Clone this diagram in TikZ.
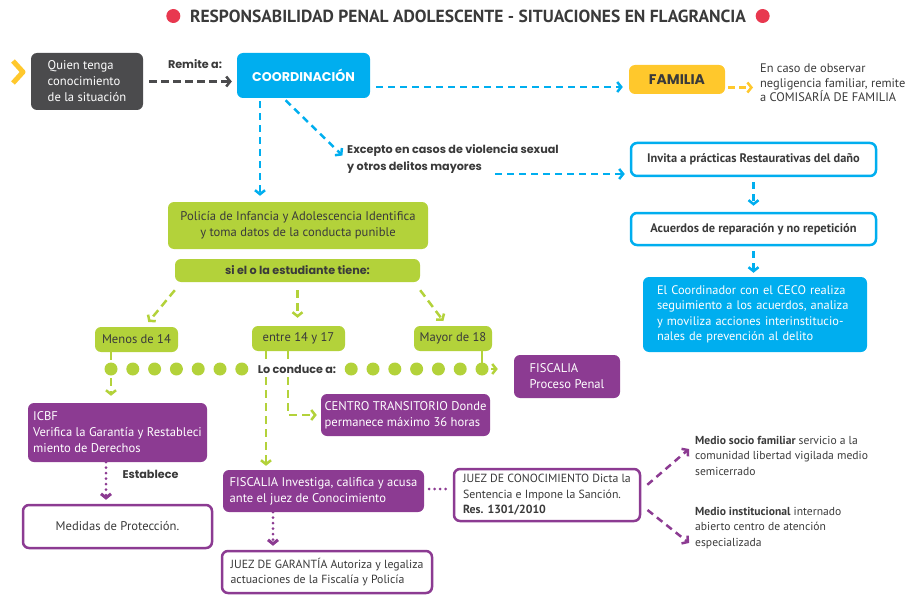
\documentclass[tikz,border=0pt]{standalone}
\usepackage{fontspec}
\setmainfont{PT Sans}
\newfontfamily\roundfont{Poppins}
\usetikzlibrary{arrows.meta,positioning,calc}

\definecolor{cyanC}{HTML}{00AEEF}
\definecolor{greenC}{HTML}{B3D23A}
\definecolor{purpleC}{HTML}{8C3B92}
\definecolor{grayC}{HTML}{4B4B4D}
\definecolor{yellowC}{HTML}{FFC82C}
\definecolor{redC}{HTML}{E8384F}
\definecolor{textC}{HTML}{3A3A3A}

\newcommand\txt{\fontsize{12.6}{16}\selectfont}
\newcommand\lbl{\roundfont\bfseries\fontsize{11.2}{17}\selectfont}

\tikzset{
  box/.style={rounded corners=6pt, inner sep=0pt, font=\txt},
  darkbox/.style={box, fill=grayC, text=white, align=left},
  cyanbox/.style={box, fill=cyanC, text=white},
  yellowbox/.style={box, fill=yellowC, text=textC},
  greenbox/.style={box, fill=greenC, text=textC, align=center},
  purplebox/.style={box, fill=purpleC, text=white, align=left},
  outcyan/.style={box, draw=cyanC, line width=2.5pt, fill=white, text=textC,
    font=\fontsize{12.4}{16}\selectfont\bfseries},
  outpurple/.style={box, draw=purpleC, line width=2.5pt, fill=white, text=textC},
  note/.style={text=textC, align=left, inner sep=0pt},
  label/.style={font=\lbl, text=textC, inner sep=1pt},
  reddot/.style={circle, fill=redC, minimum size=14pt, inner sep=0pt},
  tip/.style={-{Straight Barb[length=4pt,width=10pt]}},
  cyanline/.style={draw=cyanC, line width=2.5pt, dash pattern=on 7pt off 5pt, tip},
  grayline/.style={draw=grayC, line width=2.5pt, dash pattern=on 8pt off 4pt, tip},
  yellowline/.style={draw=yellowC, line width=2.5pt, dash pattern=on 7pt off 4pt, tip},
  greenline/.style={draw=greenC, line width=2.5pt, dash pattern=on 8pt off 5pt},
  greenarrow/.style={greenline, tip},
  purpledots/.style={draw=purpleC, line width=3pt, line cap=round, dash pattern=on 0pt off 5.5pt},
  purplearrow/.style={draw=purpleC, line width=2.5pt, dash pattern=on 7pt off 5pt, tip}
}

\begin{document}
\begin{tikzpicture}[x=1pt, y=-1pt]
\useasboundingbox (0,0) rectangle (912,596);

% titulo
\node[font=\bfseries\fontsize{17.5}{20}\selectfont, text=textC] (title) at (468,16)
  {RESPONSABILIDAD PENAL ADOLESCENTE - SITUACIONES EN FLAGRANCIA};
\node[reddot, left=6pt of title] (dotL) {};
\node[reddot, right=6pt of title] (dotR) {};

% fila superior
\draw[yellowC, line width=5pt, line join=round] (13,61) -- (23,72) -- (13,83);
\node[darkbox, minimum width=112pt, minimum height=57pt] (quien) at (87,81.5)
  {Quien tenga\\conocimiento\\de la situación};
\node[cyanbox, minimum width=133pt, minimum height=45pt,
  font=\roundfont\bfseries\fontsize{12.7}{14}\selectfont] (coord) at (303.5,75.5) {COORDINACIÓN};
\node[yellowbox, minimum width=96pt, minimum height=29pt,
  font=\roundfont\bfseries\fontsize{14}{16}\selectfont] (familia) at (677,79.5) {FAMILIA};
\node[note, anchor=north west, font=\fontsize{12.4}{14.5}\selectfont] (famnote) at (760,64)
  {En caso de observar\\negligencia familiar, remite\\a COMISARÍA DE FAMILIA};
\node[label] (remite) at (195,64) {Remite a:};
\node[label, anchor=west, align=left] (excepto) at (346,159)
  {Excepto en casos de violencia sexual\\y otros delitos mayores};

% columna derecha
\node[outcyan, minimum width=245pt, minimum height=33pt] (invita) at (753.5,159.5)
  {Invita a prácticas Restaurativas del daño};
\node[outcyan, minimum width=245pt, minimum height=32pt] (acuerdos) at (753.5,229)
  {Acuerdos de reparación y no repetición};
\node[cyanbox, align=left, text width=196pt, inner xsep=14pt, minimum height=75pt,
  font=\fontsize{12.4}{15.5}\selectfont] (ceco) at (755,314.5)
  {\makebox[196pt][s]{El Coordinador con el CECO realiza}\\
   \makebox[196pt][s]{seguimiento a los acuerdos, analiza}\\
   \makebox[196pt][s]{y moviliza acciones interinstitucio-}\\
   nales de prevención al delito};

% policia y edades
\node[greenbox, minimum width=260pt, minimum height=47pt] (policia) at (298,225.5)
  {Policía de Infancia y Adolescencia Identifica\\y toma datos de la conducta punible};
\node[greenbox, minimum width=245pt, minimum height=23pt, font=\lbl] (siel) at (297.5,270.5)
  {si el o la estudiante tiene:};
\node[greenbox, minimum width=83pt, minimum height=25pt] (menos) at (136.5,339.5) {Menos de 14};
\node[greenbox, minimum width=93pt, minimum height=25pt] (entre) at (298.5,338.5) {entre 14 y 17};
\node[greenbox, minimum width=78pt, minimum height=25pt] (mayor) at (453,338.5) {Mayor de 18};

% destinos
\node[purplebox, minimum width=106pt, minimum height=43pt] (fiscproc) at (567,376.5)
  {FISCALIA\\Proceso Penal};
\node[purplebox, minimum width=169pt, minimum height=42pt] (centro) at (405.5,415)
  {CENTRO TRANSITORIO Donde\\permanece máximo 36 horas};
\node[purplebox, minimum width=179pt, minimum height=59pt] (icbf) at (117.5,432.5)
  {ICBF\\Verifica la Garantía y Restableci\\miento de Derechos};
\node[outpurple, minimum width=189pt, minimum height=43pt] (medidas) at (117.5,526.5)
  {Medidas de Protección.};
\node[purplebox, minimum width=201pt, minimum height=42pt] (fiscinv) at (323.5,491)
  {FISCALIA Investiga, califica y acusa\\ante el juez de Conocimiento};
\node[outpurple, align=left, minimum width=210pt, minimum height=42pt,
  font=\fontsize{11.8}{15.5}\selectfont] (juezgar) at (327,572)
  {JUEZ DE GARANTÍA Autoriza y legaliza\\actuaciones de la Fiscalía y Policía};
\node[outpurple, align=left, minimum width=186pt, minimum height=52pt,
  font=\fontsize{11.8}{15.5}\selectfont] (juezcon) at (547,495)
  {JUEZ DE CONOCIMIENTO Dicta la\\Sentencia e Impone la Sanción.\\\textbf{Res. 1301/2010}};
\node[note, anchor=north west, font=\fontsize{11.6}{15.5}\selectfont] (socio) at (695,436)
  {\textbf{Medio socio familiar} servicio a la\\comunidad libertad vigilada medio\\semicerrado};
\node[note, anchor=north west, font=\fontsize{11.6}{15.5}\selectfont] (instit) at (695,507)
  {\textbf{Medio institucional} internado\\abierto centro de atención\\especializada};

% conectores superiores
\draw[grayline, shorten <=6pt, shorten >=5pt] (quien.east) -- (quien.east -| coord.west);
\draw[cyanline, shorten <=6pt, shorten >=6pt] ([yshift=-11.5pt]coord.east) -- ([yshift=-11.5pt]coord.east -| familia.west);
\draw[yellowline, shorten <=3pt, shorten >=7pt] ([yshift=-8pt]familia.east) -- ([yshift=-8pt]familia.east -| famnote.west);
\draw[cyanline, shorten <=3pt, shorten >=6pt] ([xshift=-43.5pt]coord.south) -- ([xshift=-43.5pt]coord.south |- policia.north);
\draw[cyanline, shorten <=3pt, shorten >=5pt] ([xshift=-20pt]coord.south) -- (excepto.west);
\coordinate (exc2) at (495,174);
\draw[cyanline, shorten >=5pt] (exc2) -- (exc2 -| invita.west);
\draw[cyanline, shorten <=5pt, shorten >=6pt] (invita.south) -- (acuerdos.north);
\draw[cyanline, shorten <=5pt, shorten >=4pt] (acuerdos.south) -- (ceco.north -| acuerdos.south);

% edades
\draw[greenarrow, shorten >=6pt] ([yshift=-8pt]siel.south west) -- ([xshift=8pt]menos.north);
\draw[greenarrow, shorten <=8pt, shorten >=8pt] (siel.south) -- (siel.south |- entre.north);
\draw[greenarrow, shorten >=6pt] ([yshift=-8pt]siel.south east) -- ([xshift=-6pt]mayor.north);

% lo conduce a
\coordinate (rowL) at (111,369);
\coordinate (rowR) at (482,369);
\draw[greenarrow, shorten >=7pt] ([xshift=-25.5pt]menos.south) -- ([xshift=-25.5pt]menos.south |- icbf.north);
\draw[greenline, dash pattern=] ([xshift=29pt]mayor.south) -- (rowR);
\draw[greenarrow, shorten >=4pt] ([xshift=-32.5pt]entre.south) -- ([xshift=-32.5pt]entre.south |- fiscinv.north);
\draw[greenarrow, shorten >=4pt] ([xshift=-10.5pt]entre.south) |- (centro.west);
\draw[greenarrow, dash pattern=, shorten <=9pt, shorten >=16pt] (rowR) -- (rowR -| fiscproc.west);
\foreach \i in {0,...,6} {
  \fill[greenC] ($(rowL)+(\i*21.8,0)$) circle (6.5pt);
  \fill[greenC] ($(rowR)-(\i*21.8,0)$) circle (6.5pt);
}
\node[label, fill=white, inner sep=2pt] (conduce) at (297,369) {Lo conduce a:};

% parte inferior
\draw[purpledots, tip, shorten >=4pt] ([xshift=-11.5pt]icbf.south) -- ([xshift=-11.5pt]icbf.south |- medidas.north)
  node[label, pos=0.3, right=14pt] (establece) {Establece};
\draw[purpledots, tip, shorten >=4pt] ([xshift=-50.5pt]fiscinv.south) -- ([xshift=-50.5pt]fiscinv.south |- juezgar.north);
\draw[purpledots, shorten <=5pt, shorten >=3pt] ([yshift=2pt]fiscinv.east) -- ([yshift=2pt]fiscinv.east -| juezcon.west);
\draw[purplearrow, shorten <=8pt] ([yshift=5pt]juezcon.east) -- ([shift={(-6pt,-13pt)}]socio.north west);
\draw[purplearrow, shorten <=8pt] ([yshift=-10pt]juezcon.east) -- ([shift={(-6pt,6pt)}]instit.south west);
\end{tikzpicture}
\end{document}
